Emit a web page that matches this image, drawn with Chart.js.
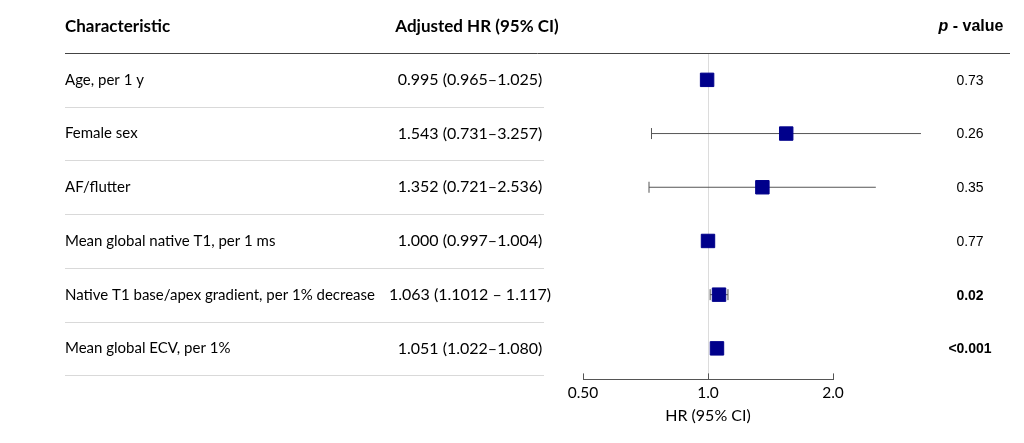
<!DOCTYPE html>
<html>
<head>
<meta charset="utf-8">
<script src="https://cdn.jsdelivr.net/npm/chart.js@4"></script>
<style>
  html, body { margin: 0; padding: 0; background: #fff; }
  #wrap { width: 1024px; height: 443px; }
</style>
</head>
<body>
<div id="wrap"><canvas id="forest"></canvas></div>
<script>
// Data
const characteristics = ['Age, per 1 y', 'Female sex', 'AF/flutter', 'Mean global native T1, per 1 ms',
  'Native T1 base/apex gradient, per 1% decrease', 'Mean global ECV, per 1%'];
const hrValues = [0.995, 1.543, 1.352, 1.000, 1.063, 1.051];
const ciLower = [0.965, 0.731, 0.721, 0.997, 1.012, 1.022];
const ciUpper = [1.025, 3.257, 2.536, 1.004, 1.117, 1.080];
const hrTexts = ['0.995 (0.965\u20131.025)', '1.543 (0.731\u20133.257)', '1.352 (0.721\u20132.536)',
  '1.000 (0.997\u20131.004)', '1.063 (1.1012 \u2013 1.117)', '1.051 (1.022\u20131.080)'];
const pValues = ['0.73', '0.26', '0.35', '0.77', '0.02', '<0.001'];
const pBold = [false, false, false, false, true, true];
const xTicks = [0.5, 1.0, 2.0];
const xTickLabels = ['0.50', '1.0', '2.0'];

const TXT_FONT = 'Lato, "Open Sans", sans-serif';
const P_FONT = '"Liberation Sans", Arial, sans-serif';

// Table text, header and separators
const tablePlugin = {
  id: 'table',
  afterDraw(chart) {
    const ctx = chart.ctx;
    const y = chart.scales.y;
    ctx.save();

    // header
    ctx.fillStyle = '#000';
    ctx.textBaseline = 'middle';
    ctx.font = 'bold 17px ' + TXT_FONT;
    ctx.textAlign = 'left';
    ctx.fillText('Characteristic', 65, 27);
    ctx.textAlign = 'center';
    ctx.fillText('Adjusted HR (95% CI)', 477, 27);

    ctx.font = 'bold italic 16px ' + P_FONT;
    const pW = ctx.measureText('p').width;
    ctx.font = 'bold 16px ' + P_FONT;
    const restW = ctx.measureText(' - value').width;
    let px = 971 - (pW + restW) / 2;
    ctx.textAlign = 'left';
    ctx.font = 'bold italic 16px ' + P_FONT;
    ctx.fillText('p', px, 27);
    ctx.font = 'bold 16px ' + P_FONT;
    ctx.fillText(' - value', px + pW, 27);

    ctx.strokeStyle = '#444';
    ctx.lineWidth = 1;
    ctx.beginPath();
    ctx.moveTo(65, 53.5);
    ctx.lineTo(1010, 53.5);
    ctx.stroke();

    // rows
    characteristics.forEach((name, i) => {
      const yc = y.getPixelForValue(i);
      ctx.fillStyle = '#000';
      ctx.font = '15px ' + TXT_FONT;
      ctx.textAlign = 'left';
      ctx.fillText(name, 65, yc);
      ctx.font = '16px ' + TXT_FONT;
      ctx.textAlign = 'center';
      ctx.fillText(hrTexts[i], 470, yc);
      ctx.font = (pBold[i] ? 'bold ' : '') + '14px ' + P_FONT;
      ctx.fillText(pValues[i], 970, yc + 1);

      const ys = Math.round(y.getPixelForValue(i + 0.5)) + 0.5;
      ctx.strokeStyle = '#d9d9d9';
      ctx.beginPath();
      ctx.moveTo(65, ys);
      ctx.lineTo(544, ys);
      ctx.stroke();
    });

    // upward tick marks on the HR axis
    const x = chart.scales.x;
    const yb = chart.chartArea.bottom;
    ctx.strokeStyle = '#555';
    xTicks.forEach(v => {
      const xp = Math.round(x.getPixelForValue(v)) + 0.5;
      ctx.beginPath();
      ctx.moveTo(xp, yb);
      ctx.lineTo(xp, yb - 6);
      ctx.stroke();
    });
    ctx.restore();
  }
};

const ciDatasets = characteristics.map((c, i) => ({
  type: 'line',
  data: [{ x: ciLower[i], y: i }, { x: ciUpper[i], y: i }],
  borderColor: '#555',
  borderWidth: 1,
  pointStyle: 'line',
  rotation: 90,
  pointRadius: 5.5,
  pointBorderColor: '#555',
  pointBorderWidth: 1,
  clip: false,
  order: 2
}));

const hrDataset = {
  type: 'scatter',
  data: hrValues.map((v, i) => ({ x: v, y: i })),
  pointStyle: 'rect',
  pointRadius: 9.5,
  backgroundColor: '#00008B',
  borderColor: '#00008B',
  borderWidth: 1,
  clip: false,
  order: 1
};

new Chart(document.getElementById('forest'), {
  data: { datasets: [...ciDatasets, hrDataset] },
  options: {
    responsive: true,
    maintainAspectRatio: false,
    animation: false,
    events: [],
    layout: { padding: { left: 583, right: 191, top: 53, bottom: 19 } },
    plugins: { legend: { display: false }, tooltip: { enabled: false } },
    scales: {
      x: {
        type: 'logarithmic',
        min: 0.5,
        max: 2.0,
        afterBuildTicks: s => { s.ticks = xTicks.map(v => ({ value: v })); },
        ticks: {
          autoSkip: false,
          maxRotation: 0,
          padding: 4,
          color: '#000',
          font: { family: TXT_FONT, size: 15.5, lineHeight: 1.2 },
          callback: (v) => xTickLabels[xTicks.indexOf(v)]
        },
        grid: {
          drawTicks: false,
          color: c => (c.tick && c.tick.value === 1) ? '#dcdcdc' : 'rgba(0,0,0,0)'
        },
        border: { display: true, color: '#555', width: 1 },
        title: {
          display: true,
          text: 'HR (95% CI)',
          color: '#000',
          font: { family: TXT_FONT, size: 16, lineHeight: 1.0 },
          padding: { top: 2, bottom: 0 }
        }
      },
      y: {
        type: 'linear',
        min: -0.5,
        max: 5.578,
        reverse: true,
        display: false
      }
    }
  },
  plugins: [tablePlugin]
});
</script>
</body>
</html>
